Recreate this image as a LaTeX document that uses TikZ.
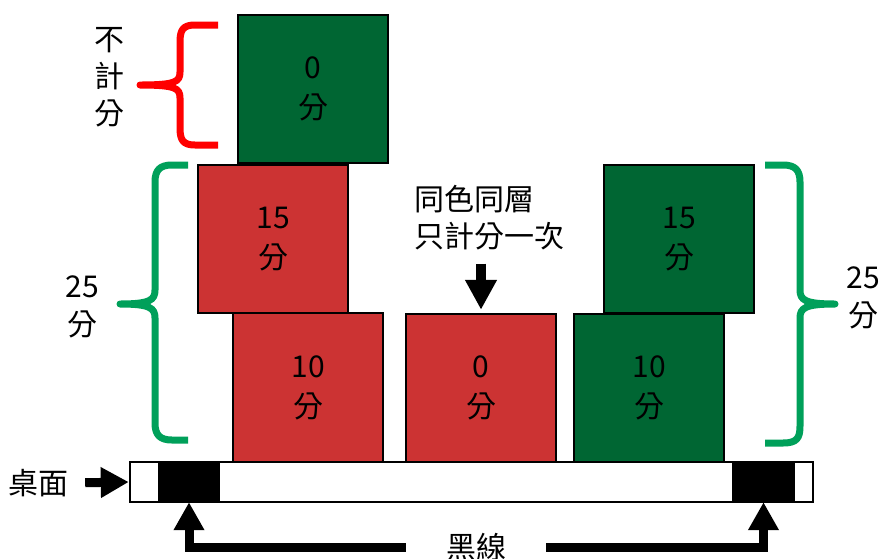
\documentclass[tikz,border=0pt]{standalone}
\usepackage{fontspec}
\setmainfont{Noto Sans CJK TC}
\usetikzlibrary{arrows.meta,calc}
\definecolor{boxred}{RGB}{204,51,51}
\definecolor{boxgreen}{RGB}{0,102,51}
\definecolor{bracegreen}{RGB}{0,160,90}
\definecolor{bracered}{RGB}{255,0,0}
\begin{document}
\begin{tikzpicture}[x=1pt,y=-1pt,
  blockbox/.style={draw=black, line width=2.5pt, minimum width=150pt, minimum height=148pt,
    inner sep=0pt, align=center, font=\fontsize{30}{40}\selectfont},
  lbl/.style={inner sep=0pt, align=center, font=\fontsize{30}{38}\selectfont},
  blockarrow/.style={line width=9pt, -{Triangle[width=29pt,length=28pt]}},
  bracestroke/.style={line width=7pt, line join=round, line cap=round}]
\useasboundingbox (0,0) rectangle (885,558);

% boxes
\node[blockbox, fill=boxgreen] (g0) at (313,89) {0\\分};
\node[blockbox, fill=boxred] (r15) at (273,239) {15\\分};
\node[blockbox, fill=boxred, minimum height=149pt] (r10) at (308,387.5) {10\\分};
\node[blockbox, fill=boxred] (r0) at (481,388) {0\\分};
\node[blockbox, fill=boxgreen] (g10) at (649,388) {10\\分};
\node[blockbox, fill=boxgreen] (g15) at (679,239) {15\\分};

% table bar
\node[draw=black, fill=white, line width=2.5pt, minimum width=683pt, minimum height=40pt, inner sep=0pt] (bar) at (471.5,482) {};
\node[fill=black, minimum width=62pt, minimum height=40pt, inner sep=0pt] (bl) at (189,482) {};
\node[fill=black, minimum width=63pt, minimum height=40pt, inner sep=0pt] (br) at (763.5,482) {};

% labels
\node[lbl, font=\fontsize{30}{37}\selectfont] (nj) at (109,77) {不\\計\\分};
\node[lbl] (l25) at (82,307) {25\\分};
\node[lbl] (r25) at (863,298) {25\\分};
\node[lbl, align=left, font=\fontsize{30}{37}\selectfont] (ct) at (489,218) {同色同層\\只計分一次};
\node[lbl] (zm) at (39,483) {桌面};
\node[lbl, inner xsep=40pt] (hx) at (476,547) {黑線};

% arrows
\draw[blockarrow, shorten <=16pt] (zm.east) -- (bar.west);
\draw[blockarrow, line width=10pt, -{Triangle[width=30pt,length=30pt]}, shorten <=13pt, shorten >=3pt] (ct.south -| r0.north) -- (r0.north);
\draw[blockarrow] (hx.west) -| (bl.south);
\draw[blockarrow] (hx.east) -| (br.south);

% braces
\draw[bracestroke, draw=bracered, line cap=butt] (218,25) -- (195,25) .. controls (183,25) and (180,30) .. (180,42) -- (180,72)
  .. controls (180,82) and (175,85) .. (140,85) .. controls (175,85) and (180,88) .. (180,98) -- (180,128)
  .. controls (180,140) and (183,145) .. (195,145) -- (218,145);
\draw[bracestroke, draw=bracegreen, line cap=butt] (188,165) -- (172,165) .. controls (160,165) and (155,170) .. (155,182) -- (155,290)
  .. controls (155,300) and (150,304) .. (120,304) .. controls (150,304) and (155,308) .. (155,318) -- (155,423)
  .. controls (155,435) and (160,440) .. (172,440) -- (188,440);
\draw[bracestroke, draw=bracegreen, line cap=butt] (765,165) -- (783,165) .. controls (795,165) and (800,170) .. (800,182) -- (800,290)
  .. controls (800,300) and (805,304) .. (835,304) .. controls (805,304) and (800,308) .. (800,318) -- (800,426)
  .. controls (800,438) and (797,443) .. (783,443) -- (765,443);
\end{tikzpicture}
\end{document}
